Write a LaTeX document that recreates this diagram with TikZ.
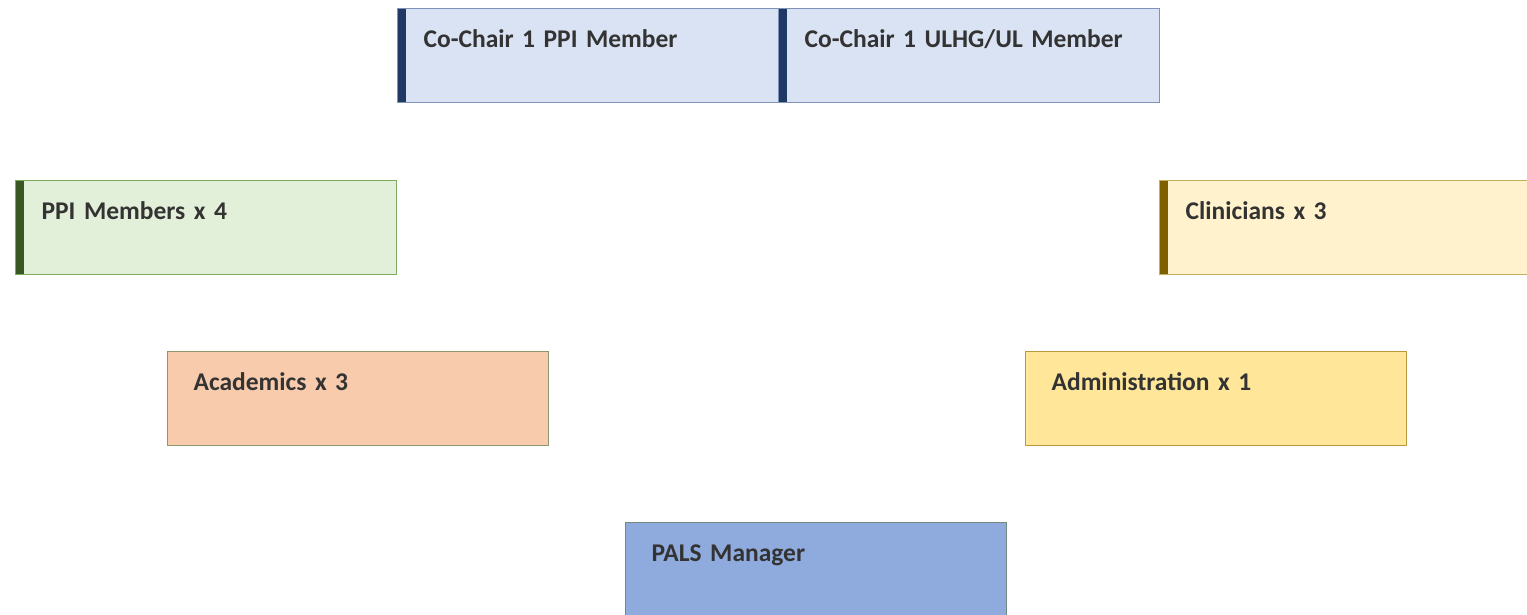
\documentclass[tikz,border=0pt]{standalone}
\usepackage{fontspec}
\setmainfont{Carlito}
\definecolor{txt}{HTML}{333333}
\definecolor{chairfill}{HTML}{DAE3F3}
\definecolor{chairline}{HTML}{7F93B8}
\definecolor{chairbar}{HTML}{203864}
\definecolor{ppifill}{HTML}{E2F0D9}
\definecolor{ppiline}{HTML}{7FA860}
\definecolor{ppibar}{HTML}{385723}
\definecolor{clinfill}{HTML}{FFF2CC}
\definecolor{clinline}{HTML}{C9AE5A}
\definecolor{clinbar}{HTML}{7F6000}
\definecolor{acadfill}{HTML}{F8CBAD}
\definecolor{acadline}{HTML}{8C9A6B}
\definecolor{adminfill}{HTML}{FFE699}
\definecolor{adminline}{HTML}{B89A3C}
\definecolor{palsfill}{HTML}{8FAADC}
\definecolor{palsline}{HTML}{6F8A80}
\tikzset{
  member/.style={rectangle, anchor=north west, line width=1.2pt,
    minimum width=381pt, text width=329pt, inner xsep=26pt, inner ysep=0pt,
    text height=39pt, text depth=55pt, align=left,
    font=\bfseries\fontsize{25.5}{28}\selectfont, text=txt},
  leftbar/.style={path picture={\fill[#1] (path picture bounding box.north west)
    rectangle ([xshift=8pt]path picture bounding box.south west);}}
}
\begin{document}
\begin{tikzpicture}[x=1pt,y=-1pt]
\clip (0,0) rectangle (1527,614);
\fill[white] (0,0) rectangle (1527,614);
% co-chairs
\node[member, fill=chairfill, draw=chairline, leftbar=chairbar] (chairppi) at (397,8) {Co-Chair 1 PPI Member};
\node[member, fill=chairfill, draw=chairline, leftbar=chairbar] (chairul) at (778,8) {Co-Chair 1 ULHG/UL Member};
% second row
\node[member, fill=ppifill, draw=ppiline, leftbar=ppibar] (ppi) at (15,180) {PPI Members x 4};
\node[member, fill=clinfill, draw=clinline, leftbar=clinbar] (clin) at (1159,180) {Clinicians x 3};
% third row
\node[member, fill=acadfill, draw=acadline] (acad) at (167,351) {Academics x 3};
\node[member, fill=adminfill, draw=adminline] (admin) at (1025,351) {Administration x 1};
% manager
\node[member, fill=palsfill, draw=palsline] (pals) at (625,522) {PALS Manager};
\end{tikzpicture}
\end{document}
